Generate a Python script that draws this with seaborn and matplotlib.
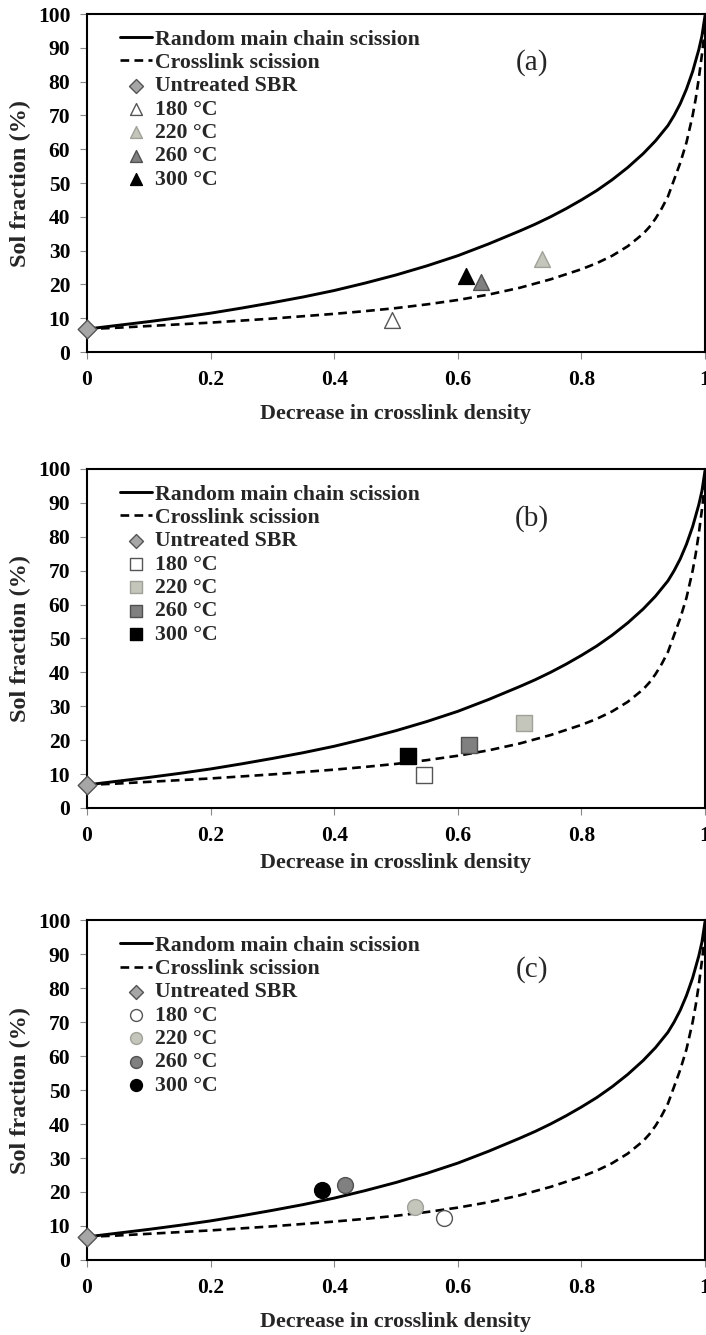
import matplotlib
matplotlib.use("Agg")
import matplotlib.pyplot as plt
import seaborn as sns

# theoretical Horikx curves (same in all panels)
curve_x_random = [0, 0.05, 0.1, 0.15, 0.2, 0.25, 0.3, 0.35, 0.4, 0.45, 0.5, 0.55, 0.6, 0.65,
                  0.7, 0.725, 0.75, 0.775, 0.8, 0.825, 0.85, 0.875, 0.9, 0.92, 0.94, 0.95,
                  0.96, 0.97, 0.98, 0.99, 0.995, 1.0]
curve_y_random = [6.8, 7.9, 9.0, 10.2, 11.5, 13.0, 14.6, 16.3, 18.2, 20.4, 22.8, 25.5, 28.5, 32.0,
                  35.8, 37.8, 40.0, 42.4, 45.0, 47.8, 51.0, 54.6, 58.7, 62.5, 67.0, 70.0,
                  73.5, 77.8, 83.0, 89.5, 93.5, 99.5]
curve_x_xlink = [0, 0.05, 0.1, 0.15, 0.2, 0.25, 0.3, 0.35, 0.4, 0.45, 0.5, 0.55, 0.6, 0.65,
                 0.7, 0.75, 0.8, 0.825, 0.85, 0.875, 0.9, 0.91, 0.92, 0.93, 0.94, 0.95, 0.96,
                 0.97, 0.98, 0.985, 0.99, 0.995, 1.0]
curve_y_xlink = [6.8, 7.2, 7.7, 8.2, 8.7, 9.3, 9.9, 10.6, 11.3, 12.1, 13.0, 14.1, 15.4, 17.0,
                 19.0, 21.5, 24.5, 26.3, 28.5, 31.3, 35.0, 37.0, 39.5, 42.5, 46.0, 51.0, 56.0,
                 62.0, 70.0, 75.0, 81.0, 88.0, 96.0]

# untreated SBR
untreated_x = [0.0]
untreated_y = [6.8]

# measured points per panel: order 180, 220, 260, 300 °C
temps = ["180 °C", "220 °C", "260 °C", "300 °C"]
a_x = [0.493, 0.737, 0.638, 0.614]
a_y = [9.5, 27.5, 20.8, 22.5]
b_x = [0.545, 0.707, 0.618, 0.520]
b_y = [9.8, 25.2, 18.5, 15.3]
c_x = [0.578, 0.530, 0.417, 0.380]
c_y = [12.3, 15.5, 22.0, 20.7]

panel_tags = ["(a)", "(b)", "(c)"]
panel_markers = ["^", "s", "o"]

fill_cols = ["#ffffff", "#c4c6bb", "#808080", "#000000"]
edge_cols = ["#555555", "#a0a29a", "#505050", "#000000"]

sns.set_style("ticks")
plt.rcParams["font.family"] = ["Liberation Serif", "DejaVu Serif"]
plt.rcParams["font.weight"] = "bold"

fig = plt.figure(figsize=(7.06, 13.35), dpi=100)

# axes boxes (left, bottom, width, height) in figure fractions
boxes = [
    [0.1232, 0.7363, 0.8754, 0.2532],
    [0.1232, 0.3948, 0.8754, 0.2539],
    [0.1232, 0.0562, 0.8754, 0.2546],
]
pts = [(a_x, a_y), (b_x, b_y), (c_x, c_y)]

for i in range(3):
    ax = fig.add_axes(boxes[i])
    sns.lineplot(x=curve_x_random, y=curve_y_random, ax=ax, color="black", lw=2.1,
                 label="Random main chain scission", sort=False)
    sns.lineplot(x=curve_x_xlink, y=curve_y_xlink, ax=ax, color="black", lw=1.9,
                 linestyle=(0, (3.3, 2)), label="Crosslink scission", sort=False)
    sns.scatterplot(x=untreated_x, y=untreated_y, ax=ax, marker="D", s=90,
                    color="#a6a6a6", edgecolor="#555555", linewidth=1.0,
                    label="Untreated SBR", zorder=5, clip_on=False)
    xs, ys = pts[i]
    for k in range(4):
        sns.scatterplot(x=[xs[k]], y=[ys[k]], ax=ax, marker=panel_markers[i], s=130,
                        color=fill_cols[k], edgecolor=edge_cols[k], linewidth=1.0,
                        label=temps[k], zorder=5)

    ax.set_xlim(0, 1)
    ax.set_ylim(0, 100)
    ax.set_xticks([0, 0.2, 0.4, 0.6, 0.8, 1])
    ax.set_xticklabels(["0", "0.2", "0.4", "0.6", "0.8", "1"])
    ax.set_yticks(range(0, 101, 10))
    for s in ax.spines.values():
        s.set_color("black")
        s.set_linewidth(1.5)
    ax.tick_params(axis="both", direction="out", length=5, width=0.8, color="#888888",
                   labelsize=15.5, labelcolor="black")
    ax.tick_params(axis="x", pad=8)
    ax.tick_params(axis="y", pad=7)
    for lab in ax.get_xticklabels() + ax.get_yticklabels():
        lab.set_fontweight("bold")

    ax.set_xlabel("Decrease in crosslink density", fontsize=15.8, fontweight="bold",
                  labelpad=10 if i != 1 else 5)
    ax.set_ylabel("Sol fraction (%)", fontsize=17.5, fontweight="bold", labelpad=5)

    ax.text(0.72, 0.855, panel_tags[i], transform=ax.transAxes, fontsize=21,
            fontweight="normal", ha="center", va="center")

    leg = ax.legend(loc="upper left", bbox_to_anchor=(0.04, 0.98), frameon=False,
                    fontsize=15.7, handlelength=1.45, handletextpad=0.12,
                    labelspacing=0.14, borderaxespad=0, markerscale=0.75)
    for t in leg.get_texts():
        t.set_fontweight("bold")

fig.savefig("out.png", dpi=100)
